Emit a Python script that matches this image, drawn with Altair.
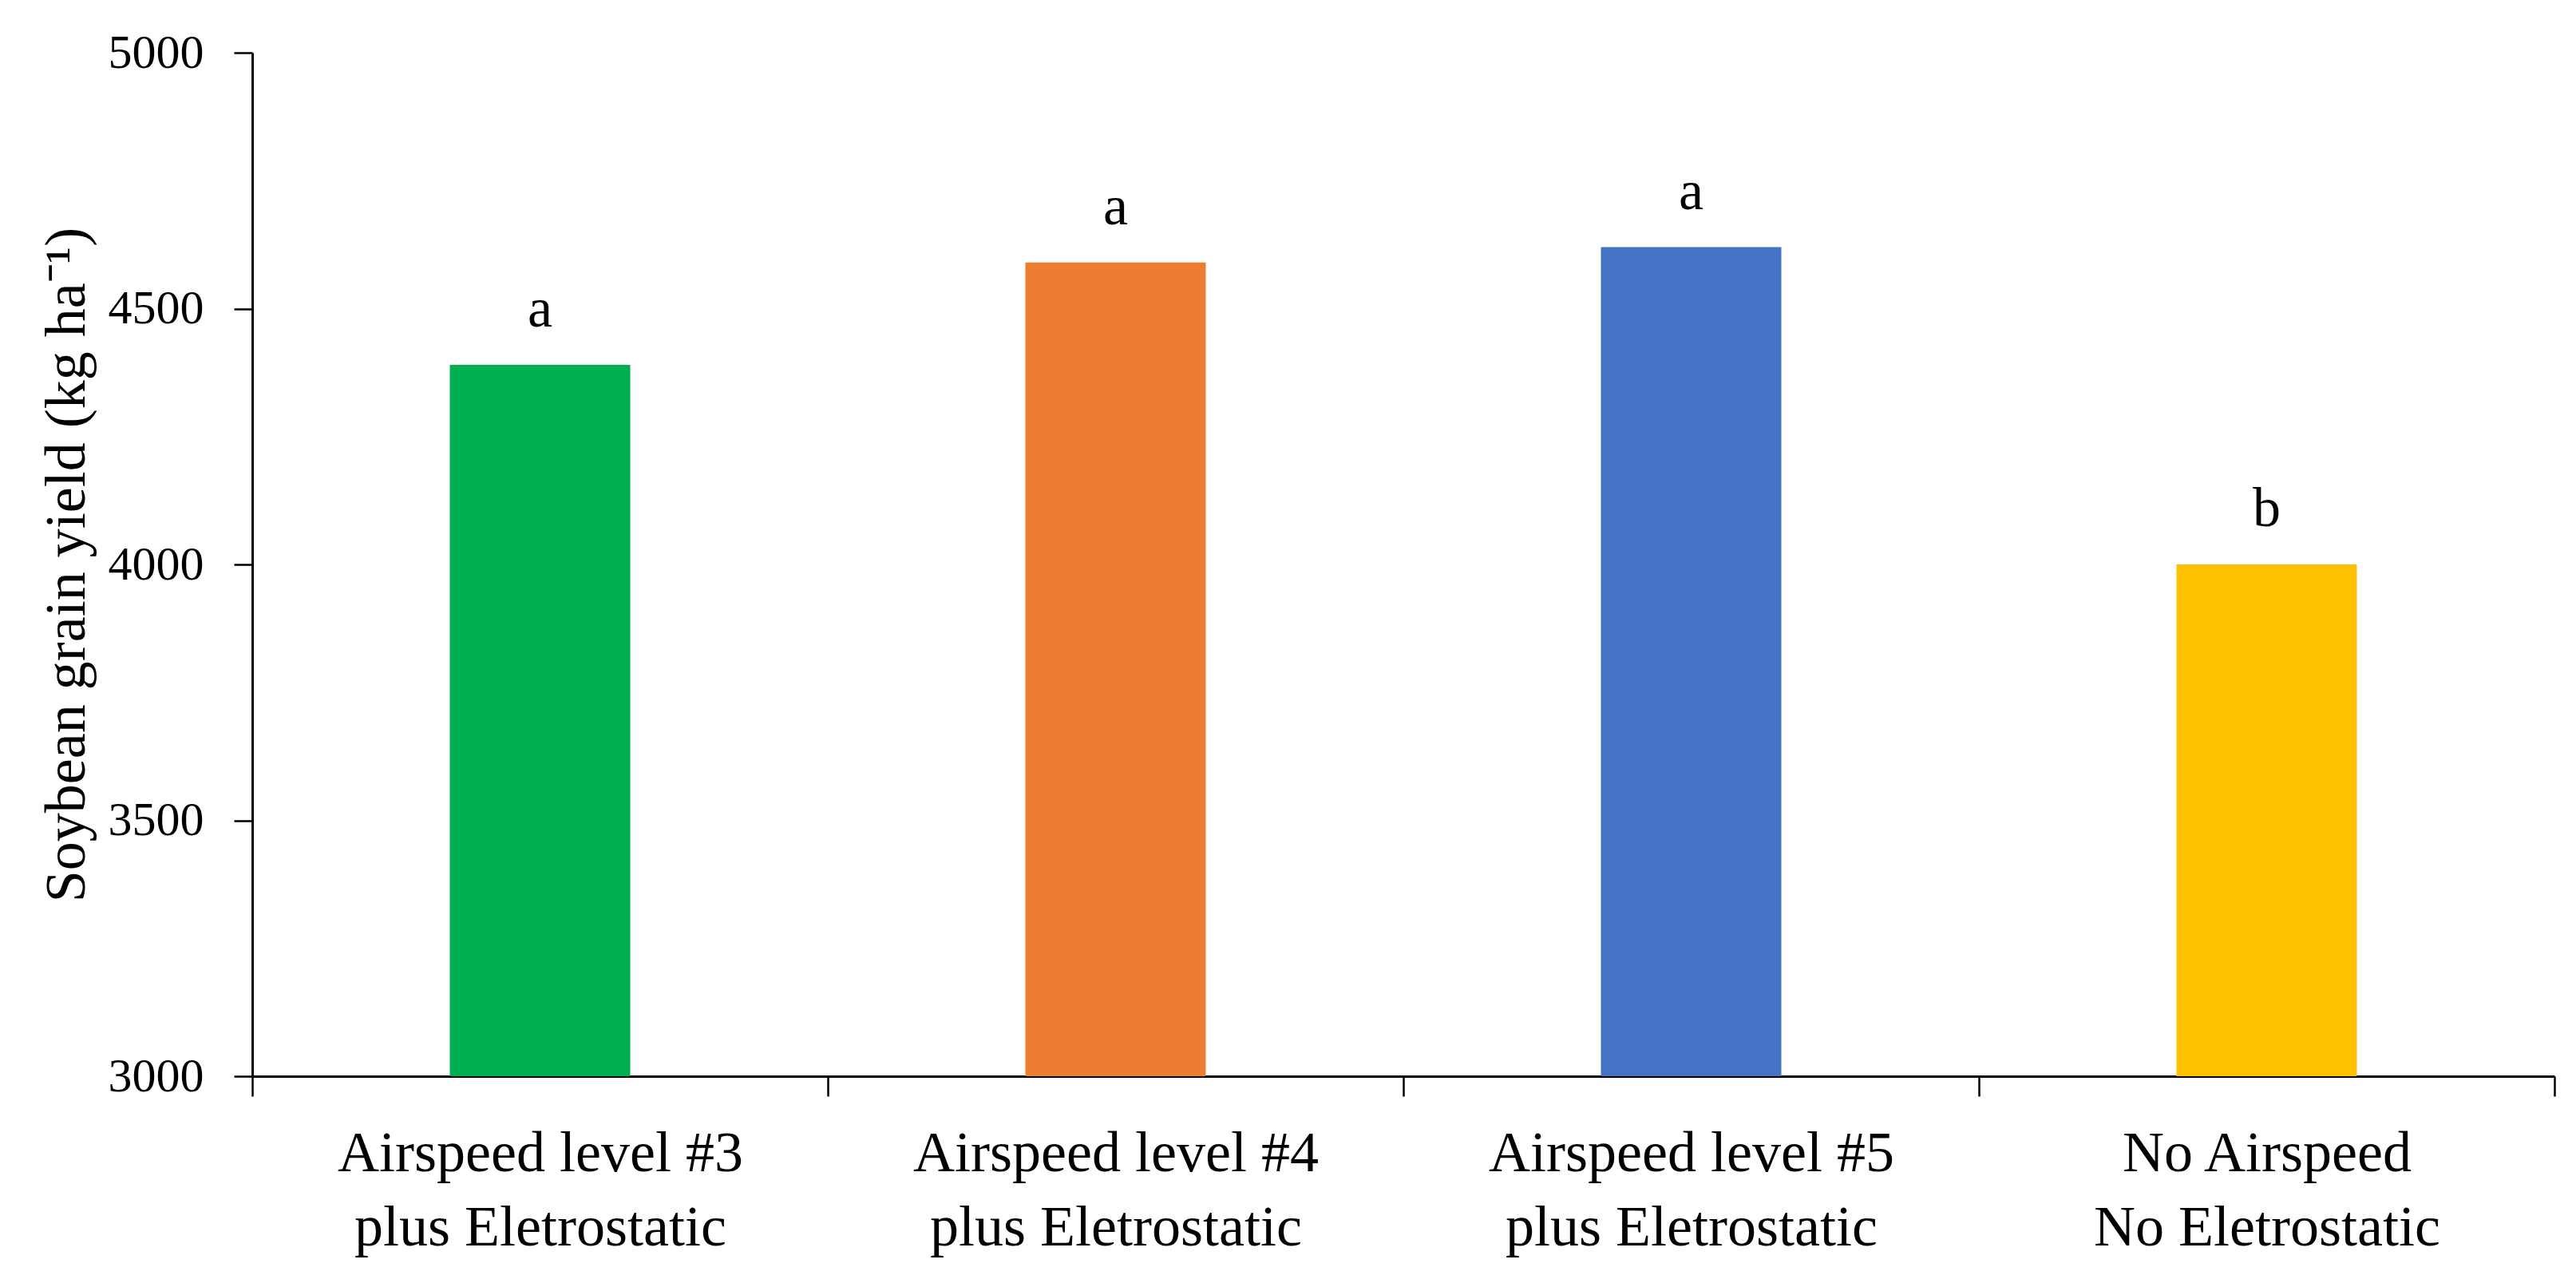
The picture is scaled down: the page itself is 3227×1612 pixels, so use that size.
import altair as alt
import pandas as pd

categories = [
    "Airspeed level #3\nplus Eletrostatic",
    "Airspeed level #4\nplus Eletrostatic",
    "Airspeed level #5\nplus Eletrostatic",
    "No Airspeed\nNo Eletrostatic",
]
yields = [4390, 4590, 4620, 4000]
letters = ["a", "a", "a", "b"]
colors = ["#00B050", "#ED7D31", "#4472C4", "#FFC000"]
y_ticks = [3000, 3500, 4000, 4500, 5000]

df = pd.DataFrame({"cat": categories, "yield": yields, "letter": letters, "color": colors})

FONT = "Liberation Serif"

x_enc = alt.X(
    "cat:N",
    sort=categories,
    scale=alt.Scale(paddingInner=0, paddingOuter=0),
    axis=alt.Axis(
        title=None,
        labelAngle=0,
        labelExpr="split(datum.label, '\\n')",
        labelFont=FONT,
        labelFontSize=72,
        labelColor="black",
        labelLineHeight=93,
        labelPadding=36,
        labelBaseline="top",
        tickBand="extent",
        tickSize=25,
        tickWidth=2.5,
        tickColor="black",
        domainColor="black",
        domainWidth=3,
        labelLimit=0,
        grid=False,
    ),
)

y_scale = alt.Scale(domain=[3000, 5000], nice=False, zero=False)

bars = alt.Chart(df).mark_bar(size=226).encode(
    x=x_enc,
    y=alt.Y(
        "yield:Q",
        scale=y_scale,
        axis=alt.Axis(
            title="Soybean grain yield (kg ha⁻¹)",
            values=y_ticks,
            format="d",
            grid=False,
            labelFont=FONT,
            labelFontSize=60,
            labelColor="black",
            labelPadding=38,
            tickSize=23,
            tickWidth=2.5,
            tickColor="black",
            domainColor="black",
            domainWidth=3,
            titleFont=FONT,
            titleFontSize=72,
            titleFontWeight="normal",
            titleColor="black",
            titleBaseline="middle",
            titleX=-233,
        ),
    ),
    y2=alt.datum(3000),
    color=alt.Color("color:N", scale=None),
)

text = alt.Chart(df).mark_text(
    font=FONT, fontSize=70, color="black", baseline="alphabetic", dy=-48
).encode(
    x=alt.X("cat:N", sort=categories),
    y=alt.Y("yield:Q", scale=y_scale),
    text="letter:N",
)

chart = (
    alt.layer(bars, text)
    .properties(
        width=2884,
        height=1282,
        autosize=alt.AutoSizeParams(type="none"),
        padding={"left": 308, "top": 58, "right": 12, "bottom": 240},
        view=alt.ViewBackground(stroke="transparent", strokeOpacity=0, strokeWidth=0),
    )
    .configure_view(stroke="transparent", strokeOpacity=0, strokeWidth=0)
    .configure_axis(grid=False)
    .configure(background="white")
)

chart.save("out.html", embed_options={"renderer": "svg", "actions": False})
